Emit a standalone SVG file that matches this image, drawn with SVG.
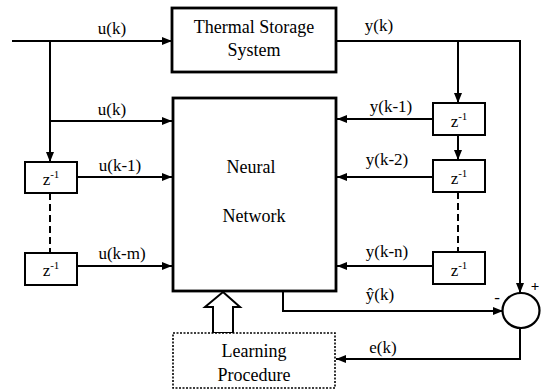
<svg xmlns="http://www.w3.org/2000/svg" width="545" height="392" viewBox="0 0 545 392">
<style>
text{font-family:"Liberation Serif","Times New Roman",serif;fill:#000}
.lbl{font-size:17px}
.big{font-size:18px}
.blk{fill:#fff;stroke:#000;stroke-width:2.8}
.z{fill:#fff;stroke:#000;stroke-width:2}
.ln{fill:none;stroke:#000;stroke-width:2}
.dash{fill:none;stroke:#000;stroke-width:2;stroke-dasharray:7 4}
</style>
<defs>
<marker id="ah" viewBox="0 0 10 8" refX="10" refY="4" markerWidth="10" markerHeight="8" markerUnits="userSpaceOnUse" orient="auto">
<path d="M0,0 L10,4 L0,8 Z" fill="#000"/>
</marker>
</defs>
<g id="connectors">
<path class="ln" d="M12,41 H172" marker-end="url(#ah)"/>
<path class="ln" d="M50,41 V162" marker-end="url(#ah)"/>
<path class="ln" d="M50,121 H172" marker-end="url(#ah)"/>
<path class="ln" d="M77,177 H172" marker-end="url(#ah)"/>
<path class="dash" d="M50,193 V253"/>
<path class="ln" d="M77,266 H172" marker-end="url(#ah)"/>
<path class="ln" d="M336,41 H520 V293" marker-end="url(#ah)"/>
<path class="ln" d="M458,41 V103" marker-end="url(#ah)"/>
<path class="ln" d="M458,135 V160" marker-end="url(#ah)"/>
<path class="dash" d="M458,192 V252"/>
<path class="ln" d="M433,119 H337" marker-end="url(#ah)"/>
<path class="ln" d="M433,177 H337" marker-end="url(#ah)"/>
<path class="ln" d="M433,266 H337" marker-end="url(#ah)"/>
<path class="ln" d="M283,291 V311 H503" marker-end="url(#ah)"/>
<path class="ln" d="M520,328 V359 H336" marker-end="url(#ah)"/>
<path d="M223,292 L240,307 L233,307 L233,333 L213,333 L213,307 L205,307 Z" fill="#fff" stroke="#000" stroke-width="2" stroke-linejoin="miter"/>
<text class="lbl" x="112" y="34" text-anchor="middle">u(k)</text>
<text class="lbl" x="112" y="115" text-anchor="middle">u(k)</text>
<text class="lbl" x="120" y="171" text-anchor="middle">u(k-1)</text>
<text class="lbl" x="122" y="259" text-anchor="middle">u(k-m)</text>
<text class="lbl" x="379" y="31" text-anchor="middle">y(k)</text>
<text class="lbl" x="391" y="112" text-anchor="middle">y(k-1)</text>
<text class="lbl" x="387" y="165" text-anchor="middle">y(k-2)</text>
<text class="lbl" x="387" y="257" text-anchor="middle">y(k-n)</text>
<text class="lbl" x="380" y="300" text-anchor="middle">ŷ(k)</text>
<text class="lbl" x="383" y="353" text-anchor="middle">e(k)</text>
</g>
<g id="thermal">
<rect class="blk" x="172" y="8" width="164" height="64"/>
<text class="big" x="254" y="33" text-anchor="middle">Thermal Storage</text>
<text class="big" x="254" y="56" text-anchor="middle">System</text>
</g>
<g id="neural">
<rect class="blk" x="173" y="98" width="163" height="193"/>
<text class="big" x="251" y="173" text-anchor="middle">Neural</text>
<text class="big" x="254" y="222" text-anchor="middle">Network</text>
</g>
<g id="zu1">
<rect class="z" x="25" y="162" width="52" height="31"/>
<text class="lbl" x="51" y="185" text-anchor="middle">z<tspan font-size="11" dy="-7">-1</tspan></text>
</g>
<g id="zu2">
<rect class="z" x="25" y="253" width="52" height="32"/>
<text class="lbl" x="51" y="276" text-anchor="middle">z<tspan font-size="11" dy="-7">-1</tspan></text>
</g>
<g id="zy1">
<rect class="z" x="433" y="103" width="52" height="32"/>
<text class="lbl" x="459" y="127" text-anchor="middle">z<tspan font-size="11" dy="-7">-1</tspan></text>
</g>
<g id="zy2">
<rect class="z" x="433" y="160" width="52" height="32"/>
<text class="lbl" x="459" y="184" text-anchor="middle">z<tspan font-size="11" dy="-7">-1</tspan></text>
</g>
<g id="zy3">
<rect class="z" x="433" y="252" width="52" height="32"/>
<text class="lbl" x="459" y="276" text-anchor="middle">z<tspan font-size="11" dy="-7">-1</tspan></text>
</g>
<g id="sum">
<ellipse cx="521" cy="310.5" rx="18.5" ry="17.5" fill="#fff" stroke="#000" stroke-width="2.2"/>
<text x="497" y="303" font-size="17" text-anchor="middle">-</text>
<text x="535" y="291" font-size="15" text-anchor="middle" font-weight="bold">+</text>
</g>
<g id="learning">
<rect x="173" y="333" width="162" height="55" fill="#fff" stroke="#000" stroke-width="1.6" stroke-dasharray="2 1.5"/>
<text class="big" x="254" y="357" text-anchor="middle">Learning</text>
<text class="big" x="254" y="381" text-anchor="middle">Procedure</text>
</g>
</svg>
